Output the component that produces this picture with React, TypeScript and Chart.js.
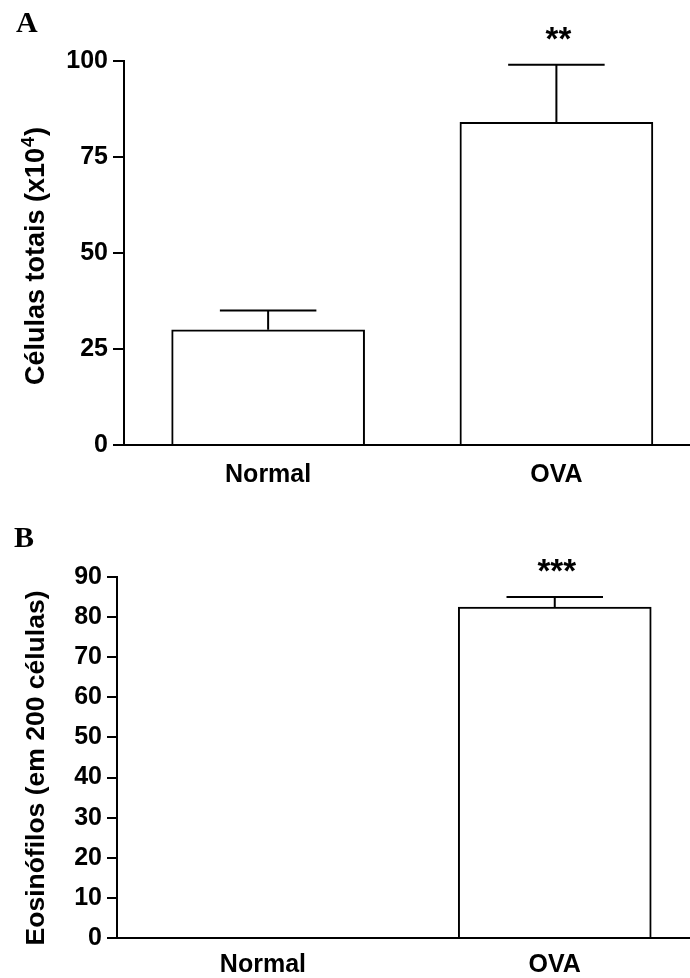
import React, { useEffect, useRef } from "react";
import { Chart, registerables } from "chart.js";

Chart.register(...registerables);

const categories = ["Normal", "OVA"];

// Panel A – total cells (x10^4)
const totalCellsMean = [30, 84];
const totalCellsSem = [5, 15];
const totalCellsSig = ["", "**"];
const totalCellsTicks = [0, 25, 50, 75, 100];

// Panel B – eosinophils (per 200 cells)
const eosinophilsMean = [0, 82.5];
const eosinophilsSem = [0, 2.5];
const eosinophilsSig = ["", "***"];
const eosinophilsTicks = [0, 10, 20, 30, 40, 50, 60, 70, 80, 90];

const SANS = "'Liberation Sans', Arial, Helvetica, sans-serif";
const SERIF = "'Liberation Serif', 'Times New Roman', serif";

type PanelProps = {
  letter: string;
  values: number[];
  sems: number[];
  sig: string[];
  ticks: number[];
  titleMain: string;
  titleSup: string;
  titleEnd: string;
  titleSize: number;
  top: number;
  height: number;
  axisLeft: number;
  padTop: number;
  xAxisHeight: number;
  xLabelPad: number;
  tickLen: number;
  letterX: number;
  letterY: number;
  titleX: number;
  titleY: number;
};

function Panel(p: PanelProps) {
  const ref = useRef<HTMLCanvasElement>(null);

  useEffect(() => {
    const canvas = ref.current!;
    const overlay = {
      id: "overlay",
      afterDatasetsDraw(chart: any) {
        const ctx = chart.ctx as CanvasRenderingContext2D;
        const meta = chart.getDatasetMeta(0);
        const y = chart.scales.y;
        ctx.save();
        ctx.strokeStyle = "#000";
        ctx.fillStyle = "#000";
        ctx.lineWidth = 2;
        p.values.forEach((v, i) => {
          const bar = meta.data[i] as any;
          const x = bar.x;
          const half = bar.width / 4;
          const yTop = y.getPixelForValue(v);
          const yErr = y.getPixelForValue(v + p.sems[i]);
          if (p.sems[i] > 0) {
            ctx.beginPath();
            ctx.moveTo(x, yTop);
            ctx.lineTo(x, yErr);
            ctx.moveTo(x - half, yErr);
            ctx.lineTo(x + half, yErr);
            ctx.stroke();
          }
          if (p.sig[i]) {
            ctx.font = `bold 33px ${SANS}`;
            ctx.textAlign = "center";
            ctx.textBaseline = "alphabetic";
            ctx.fillText(p.sig[i], x + 2, yErr - 15);
          }
        });
        ctx.restore();
      },
      afterDraw(chart: any) {
        const ctx = chart.ctx as CanvasRenderingContext2D;
        ctx.save();
        ctx.fillStyle = "#000";
        ctx.textBaseline = "alphabetic";
        ctx.textAlign = "left";
        ctx.font = `bold 30px ${SERIF}`;
        ctx.fillText(p.letter, p.letterX, p.letterY);

        const mainFont = `bold ${p.titleSize}px ${SANS}`;
        const supFont = `bold ${Math.round(p.titleSize * 0.66)}px ${SANS}`;
        ctx.font = mainFont;
        const w1 = ctx.measureText(p.titleMain).width;
        const w3 = ctx.measureText(p.titleEnd).width;
        ctx.font = supFont;
        const w2 = p.titleSup ? ctx.measureText(p.titleSup).width : 0;
        const total = w1 + w2 + w3;
        ctx.translate(p.titleX, p.titleY);
        ctx.rotate(-Math.PI / 2);
        let x = -total / 2;
        ctx.font = mainFont;
        ctx.fillText(p.titleMain, x, 0);
        x += w1;
        if (p.titleSup) {
          ctx.font = supFont;
          ctx.fillText(p.titleSup, x + 1, -10);
          x += w2 + 2;
        }
        ctx.font = mainFont;
        ctx.fillText(p.titleEnd, x, 0);
        ctx.restore();
      },
    };

    const tickFont = { family: SANS, size: 25, weight: "bold" as const };
    const chart = new Chart(canvas, {
      type: "bar",
      data: {
        datasets: [
          {
            data: p.values.map((v, i) => ({ x: i + 1, y: v })),
            backgroundColor: "#ffffff",
            borderColor: "#000000",
            borderWidth: 2,
            barThickness: 193,
          },
        ],
      },
      options: {
        animation: false,
        responsive: false,
        devicePixelRatio: 1,
        layout: { padding: { top: p.padTop, right: 1, left: 0, bottom: 0 } },
        plugins: { legend: { display: false }, tooltip: { enabled: false } },
        scales: {
          x: {
            type: "linear",
            offset: false,
            min: 0.5,
            max: 2.46,
            afterBuildTicks: (s: any) => {
              s.ticks = categories.map((_, i) => ({ value: i + 1 }));
            },
            afterFit: (s: any) => {
              s.height = p.xAxisHeight;
            },
            ticks: {
              callback: (v: any) => categories[Number(v) - 1] ?? "",
              font: tickFont,
              color: "#000",
              padding: p.xLabelPad,
              maxRotation: 0,
              minRotation: 0,
              autoSkip: false,
            },
            grid: { display: false, drawTicks: false, offset: false },
            border: { display: true, color: "#000", width: 2 },
          },
          y: {
            type: "linear",
            min: 0,
            max: p.ticks[p.ticks.length - 1],
            afterBuildTicks: (s: any) => {
              s.ticks = p.ticks.map((v) => ({ value: v }));
            },
            afterFit: (s: any) => {
              s.width = p.axisLeft;
            },
            ticks: { font: tickFont, color: "#000", padding: 5 },
            grid: {
              drawOnChartArea: false,
              drawTicks: true,
              tickLength: p.tickLen,
              tickWidth: 2,
              tickColor: "#000",
              color: "#000",
              lineWidth: 2,
            },
            border: { display: true, color: "#000", width: 2 },
          },
        },
      },
      plugins: [overlay],
    } as any);
    return () => chart.destroy();
  }, []);

  return (
    <div style={{ position: "absolute", left: 0, top: p.top, width: 690, height: p.height }}>
      <canvas ref={ref} width={690} height={p.height} style={{ display: "block" }} />
    </div>
  );
}

export default function App() {
  return (
    <div style={{ position: "absolute", left: 0, top: 0, width: 690, height: 978, background: "#fff", overflow: "hidden" }}>
      <Panel
        letter="A"
        values={totalCellsMean}
        sems={totalCellsSem}
        sig={totalCellsSig}
        ticks={totalCellsTicks}
        titleMain="Células totais (x10"
        titleSup="4"
        titleEnd=")"
        titleSize={27}
        top={0}
        height={490}
        axisLeft={124}
        padTop={61}
        xAxisHeight={45}
        xLabelPad={15}
        tickLen={11}
        letterX={16}
        letterY={32}
        titleX={44}
        titleY={257}
      />
      <Panel
        letter="B"
        values={eosinophilsMean}
        sems={eosinophilsSem}
        sig={eosinophilsSig}
        ticks={eosinophilsTicks}
        titleMain="Eosinófilos (em 200 células)"
        titleSup=""
        titleEnd=""
        titleSize={26.5}
        top={490}
        height={488}
        axisLeft={117}
        padTop={87}
        xAxisHeight={40}
        xLabelPad={12}
        tickLen={10}
        letterX={14}
        letterY={57}
        titleX={44}
        titleY={278}
      />
    </div>
  );
}
